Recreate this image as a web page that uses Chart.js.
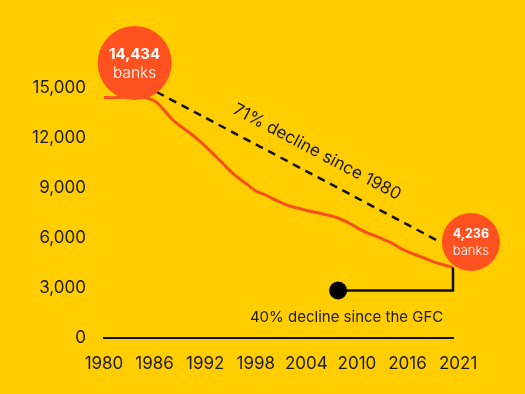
<!DOCTYPE html>
<html>
<head>
<meta charset="utf-8">
<script src="https://cdn.jsdelivr.net/npm/chart.js@4"></script>
<style>
  html, body { margin: 0; padding: 0; background: #FFCD00; }
  #wrap { width: 525px; height: 394px; }
</style>
</head>
<body>
<div id="wrap"><canvas id="myChart" width="525" height="394"></canvas></div>
<script>
// number of US banks per year
var years = [1980, 1981, 1982, 1983, 1984, 1985, 1986, 1987, 1988, 1989,
    1990, 1991, 1992, 1993, 1994, 1995, 1996, 1997, 1998, 1999,
    2000, 2001, 2002, 2003, 2004, 2005, 2006, 2007, 2008, 2009,
    2010, 2011, 2012, 2013, 2014, 2015, 2016, 2017, 2018, 2019,
    2020, 2021];
var banks = [14434, 14414, 14451, 14469, 14483, 14407, 14199, 13703, 13123, 12709,
    12343, 11921, 11462, 10958, 10452, 9940, 9528, 9143, 8774, 8580,
    8315, 8079, 7887, 7769, 7630, 7526, 7401, 7284, 7087, 6840,
    6530, 6291, 6096, 5876, 5642, 5338, 5113, 4918, 4715, 4519,
    4377, 4236];
var xTicks = [1980, 1986, 1992, 1998, 2004, 2010, 2016, 2021];
var yTicks = [0, 3000, 6000, 9000, 12000, 15000];

var orange = '#F5501E';
var bubble = '#FF5220';
var ink = '#1c1c1c';
var font = "Inter, sans-serif";

// annotations drawn on top of the chart
var notes = {
    id: 'notes',
    afterDatasetsDraw: function (chart) {
        var c = chart.ctx, x = chart.scales.x, y = chart.scales.y;
        var px = function (v) { return x.getPixelForValue(v); };
        var py = function (v) { return y.getPixelForValue(v); };
        c.save();

        // dashed 71% line
        var x1 = px(1986.2), y1 = py(14760), x2 = px(2019.5), y2 = py(5760);
        c.strokeStyle = '#111';
        c.lineWidth = 2.5;
        c.setLineDash([8, 6]);
        c.beginPath(); c.moveTo(x1, y1); c.lineTo(x2, y2); c.stroke();
        c.setLineDash([]);

        var ang = Math.atan2(y2 - y1, x2 - x1);
        c.save();
        c.translate(317, 152);
        c.rotate(ang);
        c.fillStyle = ink;
        c.font = '17px ' + font;
        c.textAlign = 'center';
        c.textBaseline = 'middle';
        c.fillText('71% decline since 1980', 0, 0);
        c.restore();

        // GFC bracket
        var ex = px(2021), ey = py(4236), gx = px(2007.5), gy = py(2850);
        c.lineWidth = 2.5;
        c.beginPath(); c.moveTo(ex, ey); c.lineTo(ex, gy); c.lineTo(gx, gy); c.stroke();
        c.fillStyle = '#000';
        c.beginPath(); c.arc(gx, gy, 9, 0, Math.PI * 2); c.fill();
        c.fillStyle = ink;
        c.font = '15px ' + font;
        c.textAlign = 'center';
        c.textBaseline = 'middle';
        c.fillText('40% decline since the GFC', px(2008.5), py(1260));

        // bubbles
        function bub(cx, cy, r, num, size) {
            c.fillStyle = bubble;
            c.beginPath(); c.arc(cx, cy, r, 0, Math.PI * 2); c.fill();
            c.fillStyle = '#fff';
            c.textAlign = 'center';
            c.textBaseline = 'middle';
            c.font = 'bold ' + size + 'px ' + font;
            c.fillText(num, cx, cy - size * 0.6);
            c.font = '300 ' + (size + 0.5) + 'px ' + font;
            c.fillText('banks', cx, cy + size * 0.7);
        }
        bub(px(1983.6), py(16500), 37, '14,434', 15);
        bub(px(2023.1), py(5760), 29, '4,236', 12.5);

        c.restore();
    }
};

// the year labels sit evenly along the axis, as in the original
var labelStep = (2021.6 - 1980) / (xTicks.length - 1);

var ctx = document.getElementById('myChart').getContext('2d');
var myChart = new Chart(ctx, {
    type: 'line',
    data: {
        labels: years,
        datasets: [{
            data: years.map(function (yr, i) { return { x: yr, y: banks[i] }; }),
            borderColor: orange,
            borderWidth: 3,
            pointRadius: 0,
            cubicInterpolationMode: 'monotone',
            fill: false
        }]
    },
    options: {
        responsive: false,
        animation: false,
        layout: { padding: { top: 88, right: 72, left: 0, bottom: 0 } },
        plugins: { legend: { display: false }, tooltip: { enabled: false } },
        scales: {
            x: {
                type: 'linear',
                min: 1980,
                max: 2021,
                afterBuildTicks: function (s) {
                    s.ticks = xTicks.map(function (v, i) { return { value: 1980 + i * labelStep, label: String(v) }; });
                },
                afterFit: function (s) { s.height = 56; },
                grid: { display: false, drawTicks: false },
                border: { display: true, color: '#111', width: 2 },
                ticks: {
                    padding: 16,
                    color: ink,
                    font: { family: font, size: 17 },
                    maxRotation: 0,
                    autoSkip: false,
                    callback: function (v, i) { return String(xTicks[i]); }
                }
            },
            y: {
                min: 0,
                max: 15000,
                afterBuildTicks: function (s) { s.ticks = yTicks.map(function (v) { return { value: v }; }); },
                afterFit: function (s) { s.width = 104; },
                grid: { display: false, drawTicks: false },
                border: { display: false },
                ticks: {
                    padding: 18,
                    color: ink,
                    font: { family: font, size: 17 },
                    callback: function (v) { return v.toLocaleString('en-US'); }
                }
            }
        }
    },
    plugins: [notes]
});
</script>
</body>
</html>
